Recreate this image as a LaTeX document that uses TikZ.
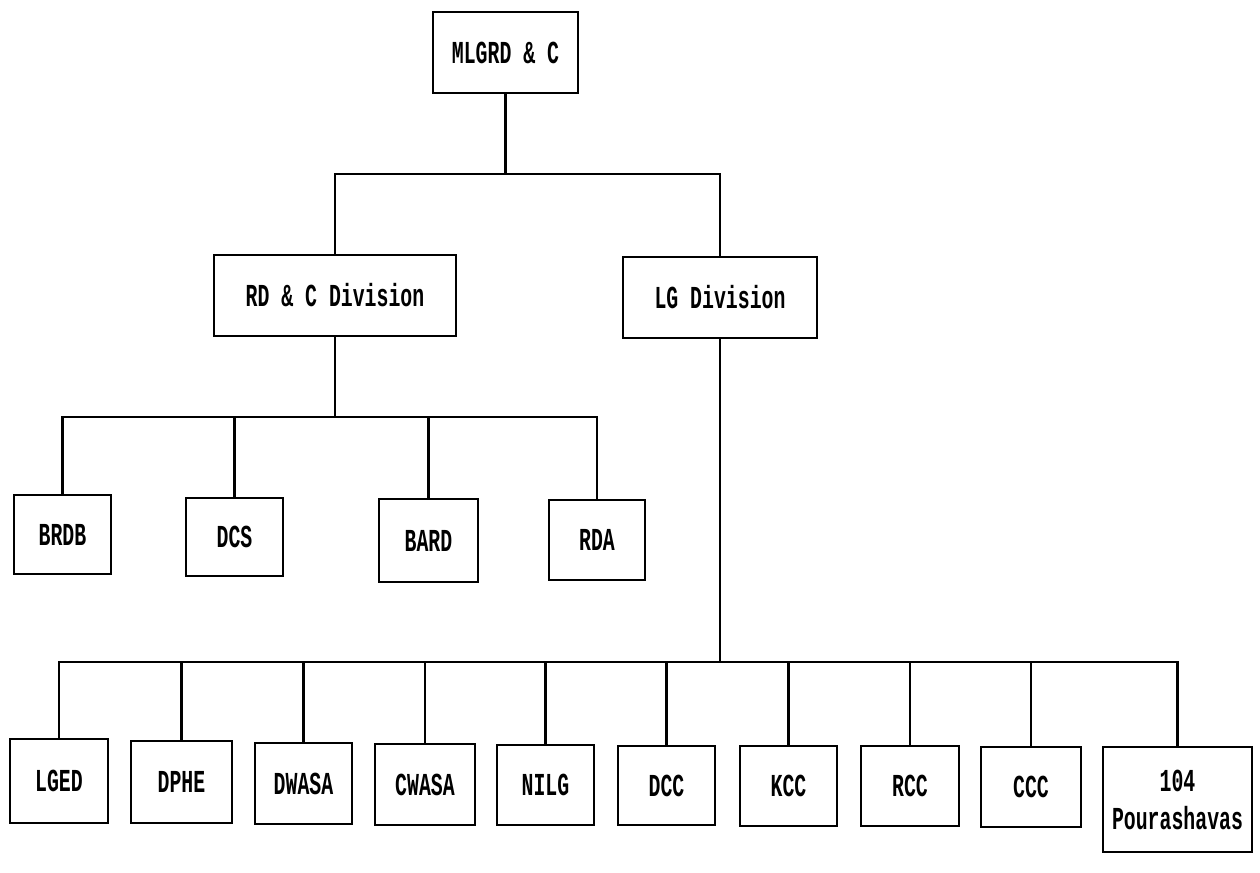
\documentclass[tikz,border=0pt]{standalone}
\usepackage{fontspec}
\newfontfamily\orgfont[FakeStretch=0.62]{Liberation Mono}
\newcommand{\orgbox}[6]{%
  \node[unit,minimum width={(#4-#2)*0.5pt},minimum height={(#5-#3)*0.5pt}]
    (#1) at ({(#2+#4)/2},{(#3+#5)/2}) {#6};
}

\begin{document}
\begin{tikzpicture}[x=0.5pt,y=-0.5pt,
  unit/.style={draw,line width=1.1pt,inner sep=0pt,align=center,
    font=\orgfont\bfseries\fontsize{16}{19}\selectfont},
  link/.style={line width=1.4pt}]
  \useasboundingbox (0,0) rectangle (1260,873);

  \orgbox{mlgrd}{433}{12}{578}{93}{MLGRD \& C}
  \orgbox{rdc}{214}{255}{456}{336}{RD \& C Division}
  \orgbox{lgd}{623}{257}{817}{338}{LG Division}

  \orgbox{brdb}{14}{495}{111}{574}{BRDB}
  \orgbox{dcs}{186}{498}{283}{576}{DCS}
  \orgbox{bard}{379}{499}{478}{582}{BARD}
  \orgbox{rda}{549}{500}{645}{580}{RDA}

  \orgbox{lged}{10}{739}{108}{823}{LGED}
  \orgbox{dphe}{131}{741}{232}{823}{DPHE}
  \orgbox{dwasa}{255}{743}{352}{824}{DWASA}
  \orgbox{cwasa}{375}{744}{475}{825}{CWASA}
  \orgbox{nilg}{497}{745}{594}{825}{NILG}
  \orgbox{dcc}{618}{746}{715}{825}{DCC}
  \orgbox{kcc}{740}{746}{837}{826}{KCC}
  \orgbox{rcc}{861}{746}{959}{826}{RCC}
  \orgbox{ccc}{981}{747}{1081}{827}{CCC}
  \orgbox{pour}{1103}{747}{1252}{852}{104\\Pourashavas}

  \coordinate (busA) at (0,174);
  \coordinate (busB) at (0,417);
  \coordinate (busC) at (0,662);

  \draw[link] (mlgrd.south) -- (mlgrd.south |- busA);
  \draw[link] (rdc.north) -- (rdc.north |- busA) -| (lgd.north);

  \draw[link] (rdc.south) -- (rdc.south |- busB);
  \draw[link] (brdb.north) -- (brdb.north |- busB) -| (rda.north);
  \foreach \n in {dcs,bard}
    \draw[link] (\n.north) -- (\n.north |- busB);

  \draw[link] (lgd.south) -- (lgd.south |- busC);
  \draw[link] (lged.north) -- (lged.north |- busC) -| (pour.north);
  \foreach \n in {dphe,dwasa,cwasa,nilg,dcc,kcc,rcc,ccc}
    \draw[link] (\n.north) -- (\n.north |- busC);

\end{tikzpicture}
\end{document}
